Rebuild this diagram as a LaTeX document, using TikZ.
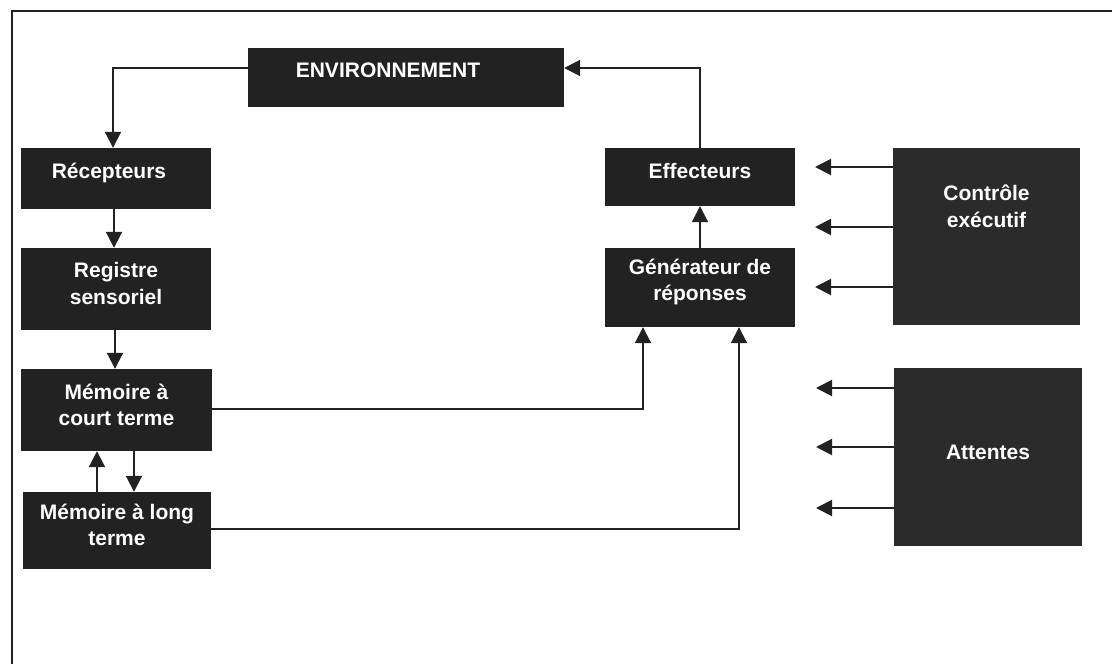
\documentclass[tikz,border=0pt]{standalone}
\usepackage{fontspec}
\setmainfont{Liberation Sans}
\usetikzlibrary{arrows.meta}
\definecolor{boxfill}{HTML}{222222}
\definecolor{bigfill}{HTML}{2B2B2B}
\definecolor{ink}{HTML}{222222}
\begin{document}
\begin{tikzpicture}[x=1pt,y=-1pt,
  box/.style={draw=none, fill=boxfill, inner sep=0pt, rectangle},
  bigbox/.style={box, fill=bigfill},
  txt/.style={text=white, font=\fontsize{21}{26.5}\selectfont\bfseries, align=center, inner sep=0pt},
  arr/.style={draw=ink, line width=2pt, -{Triangle[length=16pt,width=16pt]}},
  frame/.style={draw=ink, line width=1.5pt}]
\useasboundingbox (0,0) rectangle (1112,664);

% outer frame (open on the right and bottom)
\draw[frame] (12,664) -- (12,11) -- (1112,11);

% left column: perception and memory
\node[box, minimum width=316pt, minimum height=59pt,
  label={[txt, xshift=-18pt, yshift=7.5pt]center:ENVIRONNEMENT}] (env) at (406,77.5) {};
\node[box, minimum width=190pt, minimum height=61pt,
  label={[txt, xshift=-7pt, yshift=6pt]center:Récepteurs}] (rec) at (116,178.5) {};
\node[box, minimum width=190pt, minimum height=82pt,
  label={[txt, yshift=5.5pt]center:Registre\\sensoriel}] (reg) at (116,289) {};
\node[box, minimum width=191pt, minimum height=82pt,
  label={[txt, yshift=5pt]center:Mémoire à\\court terme}] (mct) at (116.5,410) {};
\node[box, minimum width=188pt, minimum height=77pt,
  label={[txt, yshift=5.5pt]center:Mémoire à long\\terme}] (mlt) at (117,530.5) {};

% middle column: response
\node[box, minimum width=190pt, minimum height=58pt,
  label={[txt, yshift=6pt]center:Effecteurs}] (eff) at (700,177) {};
\node[box, minimum width=190pt, minimum height=79pt,
  label={[txt, yshift=5.5pt]center:Générateur de\\réponses}] (gen) at (700,287.5) {};

% right column: control
\node[bigbox, minimum width=187pt, minimum height=177pt,
  label={[txt, yshift=30pt]center:Contrôle\\exécutif}] (ctl) at (986.5,236.5) {};
\node[bigbox, minimum width=188pt, minimum height=178pt,
  label={[txt, yshift=5pt]center:Attentes}] (att) at (988,457) {};

% free ends of the control arrows
\coordinate (c1) at (815,167);
\coordinate (c2) at (815,227);
\coordinate (c3) at (815,287);
\coordinate (a1) at (816,388);
\coordinate (a2) at (816,447);
\coordinate (a3) at (816,508);

% perception chain
\draw[arr] ([yshift=9.5pt]env.west) -| ([xshift=-3pt]rec.north);
\draw[arr] ([xshift=-2pt]rec.south) -- ([xshift=-2pt]reg.north);
\draw[arr] ([xshift=-1pt]reg.south) -- ([xshift=-1.5pt]mct.north);
\draw[arr] ([xshift=-20pt]mlt.north) -- ([xshift=-19.5pt]mct.south);
\draw[arr] ([xshift=17.5pt]mct.south) -- ([xshift=17pt]mlt.north);

% memory to response
\draw[arr] ([yshift=1pt]mct.east) -| ([xshift=-57pt]gen.south);
\draw[arr] ([yshift=1.5pt]mlt.east) -| ([xshift=39pt]gen.south);
\draw[arr] (gen.north) -- (eff.south);
\draw[arr] (eff.north) |- ([yshift=9.5pt]env.east);

% executive control and expectations
\foreach \p in {c1,c2,c3} \draw[arr] (ctl.west |- \p) -- (\p);
\foreach \p in {a1,a2,a3} \draw[arr] (att.west |- \p) -- (\p);
\end{tikzpicture}
\end{document}
